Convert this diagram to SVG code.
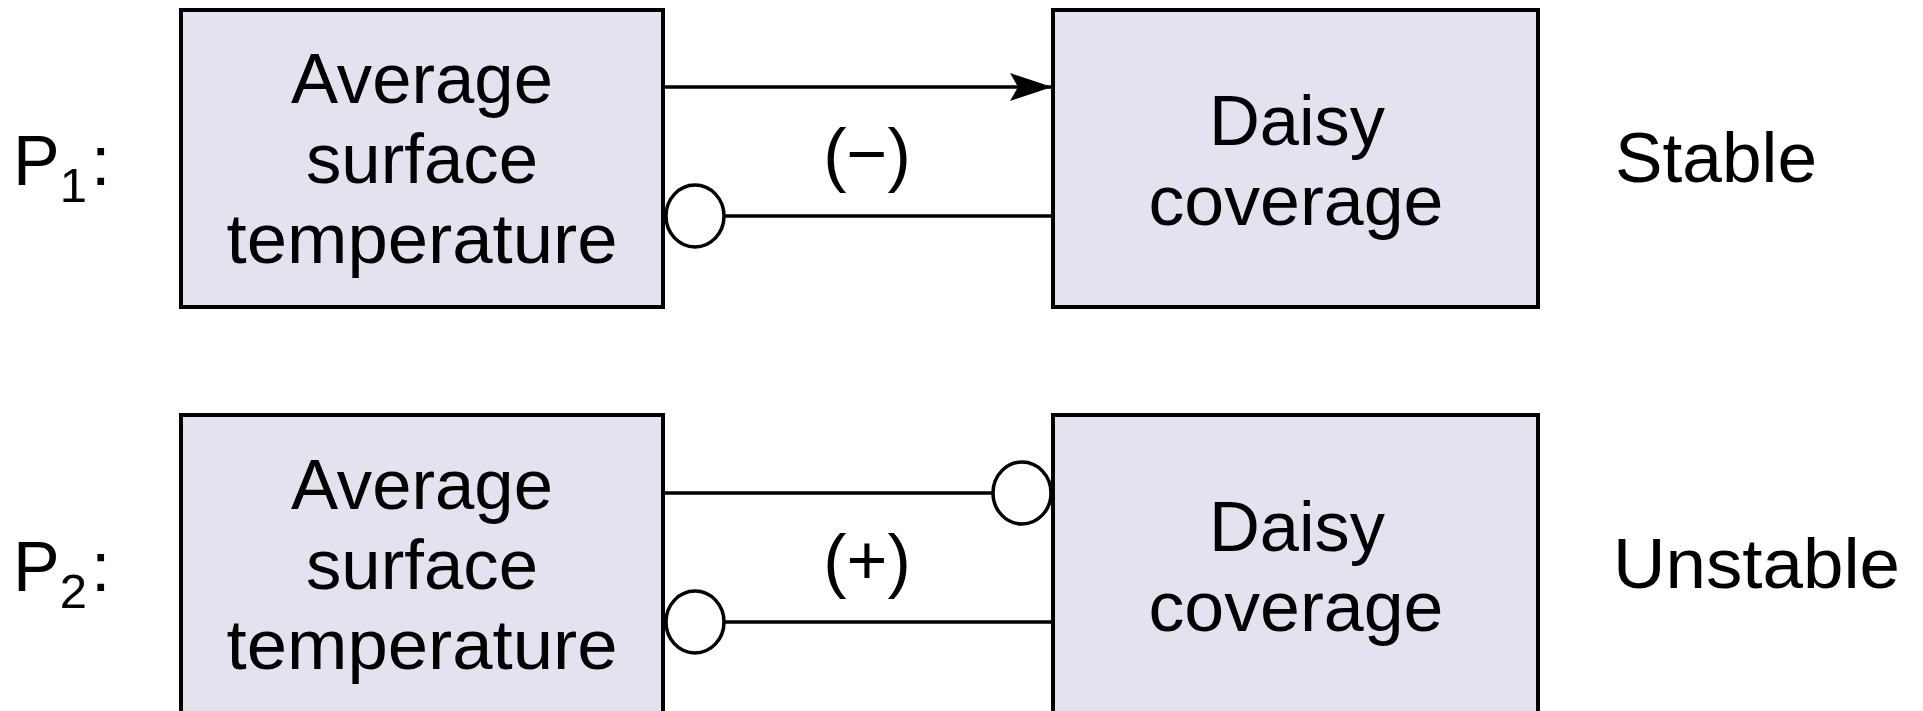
<svg xmlns="http://www.w3.org/2000/svg" width="1923" height="711" viewBox="0 0 1923 711">
  <style>
    text { font-family: "Liberation Sans", Arial, sans-serif; font-size: 70px; fill: #000; }
    .box { fill: #e2e3ee; stroke: #000; stroke-width: 4; }
    .mid { text-anchor: middle; }
    .link { stroke: #000; stroke-width: 3.5; fill: none; }
    .bubble { fill: #fff; stroke: #000; stroke-width: 3.5; }
    .sub { font-size: 49px; }
  </style>
  <defs>
    <marker id="arrow" markerUnits="userSpaceOnUse" markerWidth="44" markerHeight="32" refX="42" refY="16" orient="auto">
      <path d="M42,16 L0,2 L8,16 L0,30 Z" fill="#000"/>
    </marker>
  </defs>
  <rect width="1923" height="711" fill="#fff"/>

  <!-- row labels -->
  <g id="label-p1">
    <text x="13" y="185">P<tspan class="sub" dy="17">1</tspan><tspan dx="4" dy="-17">:</tspan></text>
  </g>
  <g id="label-p2">
    <text x="13" y="591">P<tspan class="sub" dy="17">2</tspan><tspan dx="4" dy="-17">:</tspan></text>
  </g>

  <!-- P1 nodes -->
  <g id="p1-temperature">
    <rect class="box" x="181" y="10" width="482" height="297"/>
    <text class="mid" x="422" y="103" textLength="262" lengthAdjust="spacingAndGlyphs">Average</text>
    <text class="mid" x="422" y="183" textLength="232" lengthAdjust="spacingAndGlyphs">surface</text>
    <text class="mid" x="422" y="263" textLength="391" lengthAdjust="spacingAndGlyphs">temperature</text>
  </g>
  <g id="p1-daisy">
    <rect class="box" x="1053" y="10" width="485" height="297"/>
    <text class="mid" x="1297" y="145" textLength="176" lengthAdjust="spacingAndGlyphs">Daisy</text>
    <text class="mid" x="1296" y="225" textLength="295" lengthAdjust="spacingAndGlyphs">coverage</text>
  </g>
  <g id="p1-result">
    <text x="1615" y="182" textLength="202" lengthAdjust="spacingAndGlyphs">Stable</text>
  </g>

  <!-- P2 nodes -->
  <g id="p2-temperature">
    <rect class="box" x="181" y="415" width="482" height="298"/>
    <text class="mid" x="422" y="509" textLength="262" lengthAdjust="spacingAndGlyphs">Average</text>
    <text class="mid" x="422" y="589" textLength="232" lengthAdjust="spacingAndGlyphs">surface</text>
    <text class="mid" x="422" y="669" textLength="391" lengthAdjust="spacingAndGlyphs">temperature</text>
  </g>
  <g id="p2-daisy">
    <rect class="box" x="1053" y="415" width="485" height="298"/>
    <text class="mid" x="1297" y="551" textLength="176" lengthAdjust="spacingAndGlyphs">Daisy</text>
    <text class="mid" x="1296" y="631" textLength="295" lengthAdjust="spacingAndGlyphs">coverage</text>
  </g>
  <g id="p2-result">
    <text x="1613" y="588" textLength="287" lengthAdjust="spacingAndGlyphs">Unstable</text>
  </g>

  <!-- connectors -->
  <g id="connectors">
    <!-- P1: temperature raises coverage, coverage lowers temperature -->
    <line class="link" x1="665" y1="87" x2="1052" y2="87" marker-end="url(#arrow)"/>
    <line class="link" x1="724" y1="216" x2="1052" y2="216"/>
    <ellipse class="bubble" cx="695" cy="216" rx="29" ry="31"/>
    <text class="mid" x="867" y="178">(−)</text>

    <!-- P2: both couplings inverse -->
    <line class="link" x1="665" y1="493" x2="993" y2="493"/>
    <ellipse class="bubble" cx="1022" cy="493" rx="29" ry="31"/>
    <line class="link" x1="724" y1="622" x2="1052" y2="622"/>
    <ellipse class="bubble" cx="695" cy="622" rx="29" ry="31"/>
    <text class="mid" x="867" y="584">(+)</text>
  </g>
</svg>
